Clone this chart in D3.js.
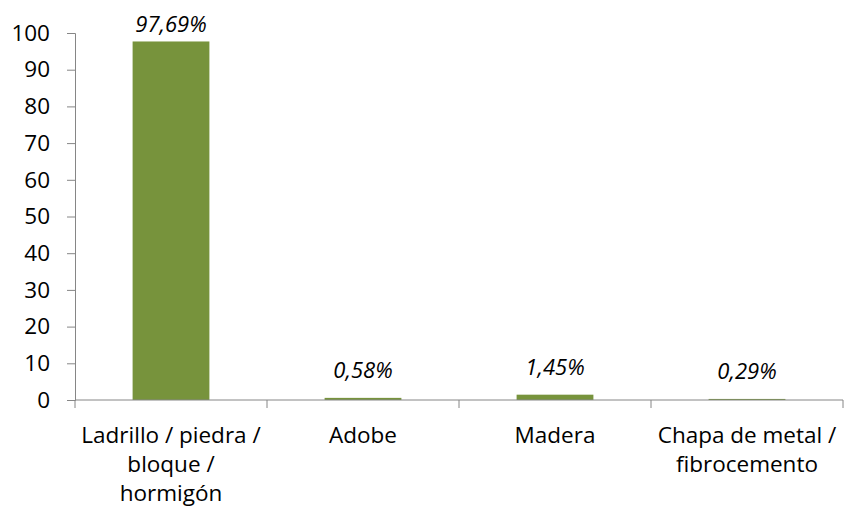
<!DOCTYPE html>
<html>
<head>
<meta charset="utf-8">
<script src="https://cdn.jsdelivr.net/npm/d3@7"></script>
<style>
  body { margin: 0; background: #fff; }
  svg { display: block; font-family: "Open Sans", sans-serif; }
</style>
</head>
<body>
<svg id="chart" width="845" height="511"></svg>
<script>
  const categories = [
    ["Ladrillo / piedra /", "bloque /", "hormigón"],
    ["Adobe"],
    ["Madera"],
    ["Chapa de metal /", "fibrocemento"]
  ];
  const values = [97.69, 0.58, 1.45, 0.29];
  const valueLabels = ["97,69%", "0,58%", "1,45%", "0,29%"];
  const yTicks = [0, 10, 20, 30, 40, 50, 60, 70, 80, 90, 100];

  const LEFT = 75, RIGHT = 843, TOP = 33, BOTTOM = 400;
  const GREEN = "#77933c";
  const AXIS = "#868686";
  const FONT = 22.5;

  const svg = d3.select("#chart");
  const ids = categories.map((c, i) => i);

  const x = d3.scaleBand().domain(ids).range([LEFT, RIGHT])
    .paddingInner(0.6).paddingOuter(0.3);
  const y = d3.scaleLinear().domain([0, 100]).range([BOTTOM, TOP]);

  // bars
  svg.append("g").selectAll("rect")
    .data(values)
    .join("rect")
    .attr("x", (d, i) => x(i))
    .attr("y", d => y(d))
    .attr("width", x.bandwidth())
    .attr("height", d => y(0) - y(d))
    .attr("fill", GREEN);

  // y axis
  const yAxis = svg.append("g")
    .attr("transform", `translate(${LEFT},0)`)
    .call(d3.axisLeft(y).tickValues(yTicks).tickSizeOuter(0).tickSize(8).tickPadding(17));
  yAxis.select(".domain").attr("stroke", AXIS);
  yAxis.selectAll(".tick line").attr("stroke", AXIS);
  yAxis.selectAll(".tick text")
    .attr("fill", "#000").attr("font-size", FONT).attr("font-family", "'Open Sans', sans-serif");

  // x axis: ticks at band edges
  const step = x.step();
  const edges = d3.range(categories.length + 1).map(i => LEFT + i * step);
  const xg = svg.append("g");
  xg.append("line")
    .attr("x1", LEFT).attr("x2", RIGHT)
    .attr("y1", BOTTOM).attr("y2", BOTTOM)
    .attr("stroke", AXIS);
  xg.selectAll(".edge")
    .data(edges)
    .join("line")
    .attr("x1", d => d).attr("x2", d => d)
    .attr("y1", BOTTOM).attr("y2", BOTTOM + 8)
    .attr("stroke", AXIS);

  // category labels
  svg.append("g").selectAll("text")
    .data(categories)
    .join("text")
    .attr("text-anchor", "middle")
    .attr("font-size", FONT)
    .attr("fill", "#000")
    .each(function (lines, i) {
      d3.select(this).selectAll("tspan")
        .data(lines)
        .join("tspan")
        .attr("x", x(i) + x.bandwidth() / 2)
        .attr("y", (l, j) => 443 + j * 29)
        .text(l => l);
    });

  // value labels (kept inside the plot top like the original)
  svg.append("g").selectAll("text")
    .data(values)
    .join("text")
    .attr("x", (d, i) => x(i) + x.bandwidth() / 2)
    .attr("y", d => Math.max(y(d) - 20, 32))
    .attr("text-anchor", "middle")
    .attr("font-size", 22)
    .attr("font-style", "italic")
    .attr("fill", "#000")
    .text((d, i) => valueLabels[i]);
</script>
</body>
</html>
